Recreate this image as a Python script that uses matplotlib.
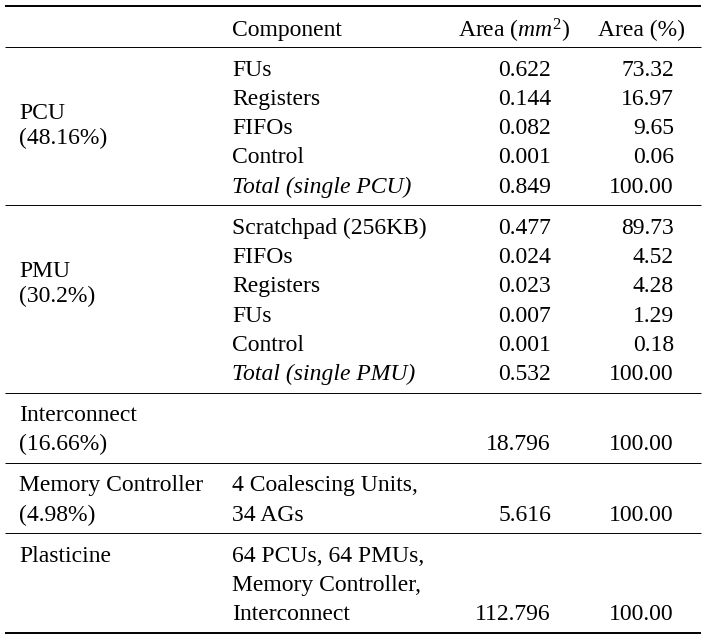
import matplotlib.pyplot as plt

plt.rcParams['font.family'] = 'Liberation Serif'
plt.rcParams['mathtext.fontset'] = 'custom'
plt.rcParams['mathtext.rm'] = 'Liberation Serif'
plt.rcParams['mathtext.it'] = 'Liberation Serif:italic'

headers = ['Component', 'Area ($mm^2$)', 'Area (%)']

group_names = ['PCU', 'PMU', 'Interconnect', 'Memory Controller', 'Plasticine']
group_shares = ['(48.16%)', '(30.2%)', '(16.66%)', '(4.98%)', '']

pcu_parts = ['FUs', 'Registers', 'FIFOs', 'Control', 'Total (single PCU)']
pcu_area = ['0.622', '0.144', '0.082', '0.001', '0.849']
pcu_pct = ['73.32', '16.97', '9.65', '0.06', '100.00']

pmu_parts = ['Scratchpad (256KB)', 'FIFOs', 'Registers', 'FUs', 'Control', 'Total (single PMU)']
pmu_area = ['0.477', '0.024', '0.023', '0.007', '0.001', '0.532']
pmu_pct = ['89.73', '4.52', '4.28', '1.29', '0.18', '100.00']

ic_parts = ['', '']
ic_area = ['', '18.796']
ic_pct = ['', '100.00']

mc_parts = ['4 Coalescing Units,', '34 AGs']
mc_area = ['', '5.616']
mc_pct = ['', '100.00']

pl_parts = ['64 PCUs, 64 PMUs,', 'Memory Controller,', 'Interconnect']
pl_area = ['', '', '112.796']
pl_pct = ['', '', '100.00']

parts = [pcu_parts, pmu_parts, ic_parts, mc_parts, pl_parts]
areas = [pcu_area, pmu_area, ic_area, mc_area, pl_area]
pcts = [pcu_pct, pmu_pct, ic_pct, mc_pct, pl_pct]

# layout (pixels)
fs = 17
row_h = 29.3
pad = 20.5
base = 8
x_name, x_comp, x_area, x_pct = 19, 232, 551, 674
x_l, x_r = 5, 701

fig = plt.figure(figsize=(7.08, 6.4), dpi=100)
ax = fig.add_axes([0, 0, 1, 1])
ax.set_xlim(0, 708)
ax.set_ylim(640, 0)
ax.axis('off')

def rule(y, lw):
    ax.plot([x_l, x_r], [y, y], color='black', lw=lw, solid_capstyle='butt')

rule(6, 1.4)
ax.text(x_comp, 28 + base, headers[0], fontsize=fs, va='baseline', ha='left')
ax.text(570, 28 + base + 2, headers[1], fontsize=fs, va='baseline', ha='right')
ax.text(685, 28 + base, headers[2], fontsize=fs, va='baseline', ha='right')
y = 47
rule(y, 0.7)

for g in range(len(group_names)):
    first = y + pad
    n = len(parts[g])
    for i in range(n):
        yc = first + i * row_h + base
        style = 'italic' if parts[g][i].startswith('Total') else 'normal'
        ax.text(x_comp, yc, parts[g][i], fontsize=fs, va='baseline', style=style)
        ax.text(x_area, yc, areas[g][i], fontsize=fs, va='baseline', ha='right')
        ax.text(x_pct, yc, pcts[g][i], fontsize=fs, va='baseline', ha='right')
    if n > 3:
        y1 = first + 1.47 * row_h + base
        y2 = y1 + 25
    else:
        y1 = first + base
        y2 = first + row_h + base
    ax.text(x_name, y1, group_names[g], fontsize=fs, va='baseline')
    ax.text(x_name, y2, group_shares[g], fontsize=fs, va='baseline')
    y = first + (n - 1) * row_h + pad
    rule(y, 1.4 if g == len(group_names) - 1 else 0.7)

fig.savefig('out.png', dpi=100)
